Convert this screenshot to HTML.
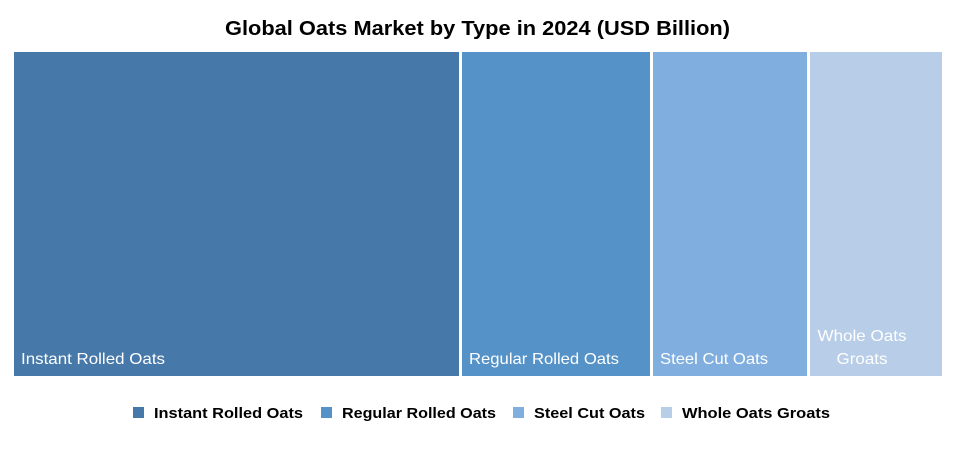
<!DOCTYPE html>
<html><head><meta charset="utf-8"><style>
body{margin:0;background:#fff;width:956px;height:450px;overflow:hidden;font-family:"Liberation Sans",Arial,sans-serif}
svg text{font-family:"Liberation Sans",Arial,sans-serif}
</style></head><body>
<svg id="chart" width="956" height="450" viewBox="0 0 956 450">
<text x="225" y="35" textLength="505" lengthAdjust="spacingAndGlyphs" font-size="20" font-weight="bold" fill="#000">Global Oats Market by Type in 2024 (USD Billion)</text>
<g id="tiles"></g>
<g id="legend"></g>
</svg>
<script>
const categories=["Instant Rolled Oats","Regular Rolled Oats","Steel Cut Oats","Whole Oats Groats"];
const values=[4.45,1.88,1.54,1.32];
const colors=["#4679A9","#5592C8","#80AEDE","#B8CDE8"];
const NS="http://www.w3.org/2000/svg";
const x0=14,x1=942,y0=52,y1=376,gap=3;
const sum=values.reduce((a,b)=>a+b,0);
const avail=(x1-x0)-gap*(values.length-1);
const tiles=document.getElementById('tiles');
const labelLen=[144,150,108];
let x=x0;
values.forEach((v,i)=>{
  const w=avail*v/sum;
  const r=document.createElementNS(NS,'rect');
  
  
  r.setAttribute('x',x);r.setAttribute('y',y0);r.setAttribute('width',w);r.setAttribute('height',y1-y0);
  r.setAttribute('fill',colors[i]);
  tiles.appendChild(r);
  const t=document.createElementNS(NS,'text');
  
  
  t.setAttribute('fill','#fff');t.setAttribute('font-size','16');
  const tw=categories[i].length*8.2;
  if(tw+14>w){
    const words=categories[i].split(' ');
    const l1=words.slice(0,2).join(' '),l2=words.slice(2).join(' ');
    const cx=x+w/2-14;
    t.setAttribute('text-anchor','middle');
    [[l1,89],[l2,51]].forEach((s,j)=>{const ts=document.createElementNS(NS,'tspan');ts.setAttribute('x',cx);ts.setAttribute('y',341+j*23);ts.setAttribute('textLength',s[1]);ts.setAttribute('lengthAdjust','spacingAndGlyphs');ts.textContent=s[0];t.appendChild(ts);});
  } else {
    t.setAttribute('x',x+7);t.setAttribute('y',364);t.textContent=categories[i];
    t.setAttribute('textLength',labelLen[i]);t.setAttribute('lengthAdjust','spacingAndGlyphs');
  }
  tiles.appendChild(t);
  x+=w+gap;
});
const legend=document.getElementById('legend');
const lx=[133,321,513,661];
const lLen=[149,154,111,148];
categories.forEach((c,i)=>{
  const g=document.createElementNS(NS,'g');
  
  
  const r=document.createElementNS(NS,'rect');
  r.setAttribute('x',lx[i]);r.setAttribute('y',407);r.setAttribute('width',11);r.setAttribute('height',11);r.setAttribute('fill',colors[i]);
  const t=document.createElementNS(NS,'text');
  t.setAttribute('x',lx[i]+21);t.setAttribute('y',418);t.setAttribute('font-size','15');t.setAttribute('font-weight','bold');t.setAttribute('fill','#000');
  t.setAttribute('textLength',lLen[i]);t.setAttribute('lengthAdjust','spacingAndGlyphs');
  t.textContent=c;
  g.appendChild(r);g.appendChild(t);legend.appendChild(g);
});
</script>
</body></html>
